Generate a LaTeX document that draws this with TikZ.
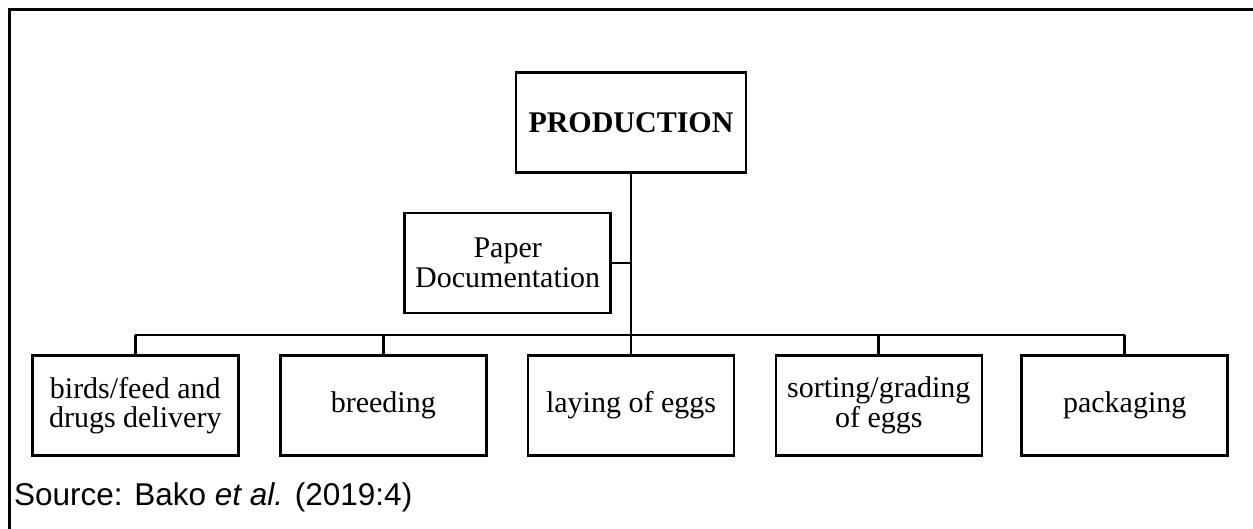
\documentclass[tikz,border=0pt]{standalone}
\usepackage{fontspec}
\setmainfont{Liberation Serif}
\newfontfamily\srcfont{Liberation Sans}
\begin{document}
\begin{tikzpicture}[x=1pt,y=-1pt,
  box/.style={draw, line width=2.5pt, rectangle, align=center,
    minimum width=206pt, minimum height=100pt, inner sep=0pt,
    font=\fontsize{30}{29.5}\selectfont},
  link/.style={line width=2.8pt},
  frame/.style={line width=3pt}]
\useasboundingbox (0,0) rectangle (1253,529);
% outer frame (top and left edges)
\draw[frame] (9.5,529) -- (9.5,9.5) -- (1253,9.5);

% root and side box
\node[box, minimum width=230pt] (prod) at (631,122.7) {\textbf{PRODUCTION}};
\node[box] (paper) at (507.7,263) {Paper\\Documentation};

% process steps
\node[box] (birds) at (135.3,405.5) {birds/feed and\\drugs delivery};
\node[box] (breed) at (383.3,405.5) {breeding};
\node[box] (lay)   at (631,405.5)   {laying of eggs};
\node[box] (sort)  at (878.8,405.5) {sorting/grading\\of eggs};
\node[box] (pack)  at (1124.7,405.5) {packaging};

% connectors
\coordinate (bus) at (631,335);
\draw[link] (prod.south) -- (lay.north);
\draw[link] (paper.east) -- (paper.east -| prod.south);
\draw[link] (birds.north |- bus) -- (pack.north |- bus);
\foreach \n in {birds,breed,sort,pack}
  \draw[link] (\n.north) -- (\n.north |- bus);

% citation
\node[anchor=base west, inner sep=0pt, font=\srcfont\fontsize{31.5}{32}\selectfont]
  (src) at (14,505) {Source: Bako \textit{et al.} (2019:4)};
\end{tikzpicture}
\end{document}
